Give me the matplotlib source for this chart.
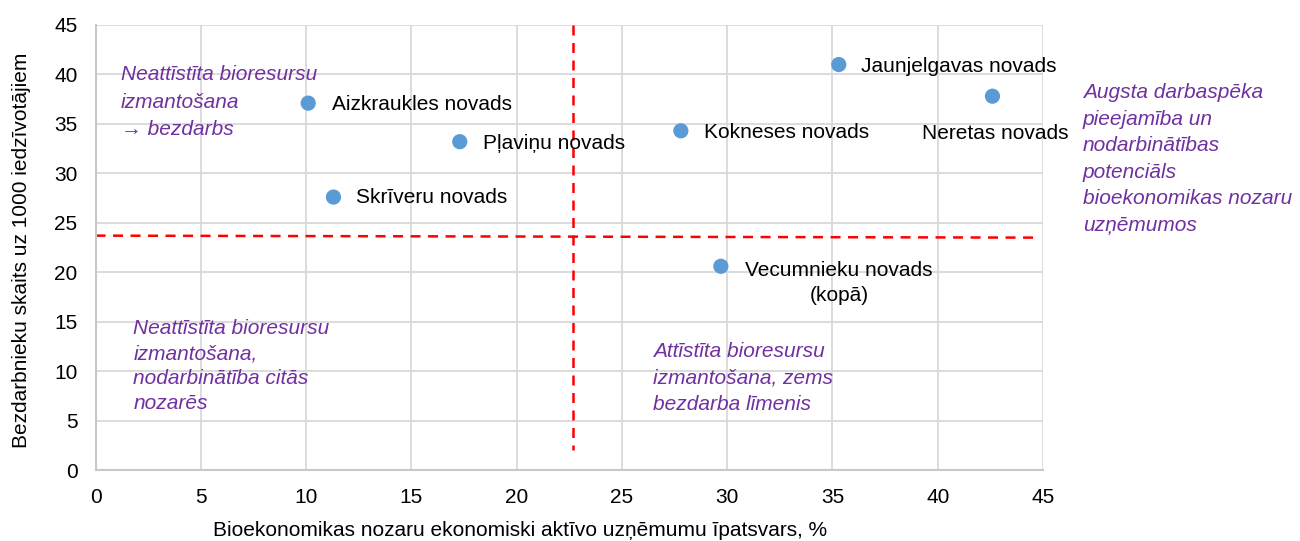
import matplotlib
matplotlib.use("Agg")
import matplotlib.pyplot as plt

plt.rcParams['font.family'] = ['Liberation Sans', 'DejaVu Sans']

names = ["Aizkraukles novads", "Pļaviņu novads", "Skrīveru novads", "Kokneses novads",
         "Jaunjelgavas novads", "Neretas novads", "Vecumnieku novads\n(kopā)"]
x_vals = [10.1, 17.3, 11.3, 27.8, 35.3, 42.6, 29.7]
y_vals = [37.1, 33.2, 27.6, 34.3, 41.0, 37.8, 20.6]

x_div = 22.7
y_div = [23.7, 23.5]

xticks = [0, 5, 10, 15, 20, 25, 30, 35, 40, 45]
yticks = [0, 5, 10, 15, 20, 25, 30, 35, 40, 45]

quad_texts = [
    "Neattīstīta bioresursu\nizmantošana\n→ bezdarbs",
    "Neattīstīta bioresursu\nizmantošana,\nnodarbinātība citās\nnozarēs",
    "Attīstīta bioresursu\nizmantošana, zems\nbezdarba līmenis",
    "Augsta darbaspēka\npieejamība un\nnodarbinātības\npotenciāls\nbioekonomikas nozaru\nuzņēmumos",
]

fig = plt.figure(figsize=(13, 5.41), dpi=100)
ax = fig.add_axes([0.0735, 0.1312, 0.7288, 0.8226])
ax.set_xlim(0, 45)
ax.set_ylim(0, 45)
ax.set_xticks(xticks)
ax.set_yticks(yticks)
ax.grid(True, color='#D9D9D9', linewidth=1.3)
ax.set_axisbelow(True)
for s in ['top', 'right']:
    ax.spines[s].set_visible(False)
for s in ['left', 'bottom']:
    ax.spines[s].set_color('#C8C8C8')
    ax.spines[s].set_linewidth(1.5)
fs = 15
ax.tick_params(length=0, labelsize=fs)
ax.tick_params(axis='x', pad=13)
ax.tick_params(axis='y', pad=13)

ax.scatter(x_vals, y_vals, s=120, color='#5B9BD5', zorder=3, edgecolors='none')

# dashed separators
ax.plot([x_div, x_div], [45, 2], color='#FF0000', linestyle=(0, (4, 3)), linewidth=1.8, zorder=2, clip_on=False)
ax.plot([0, 44.6], y_div, color='#FF0000', linestyle=(0, (4, 3)), linewidth=1.8, zorder=2, clip_on=False)

# point labels
offsets = [(17, -1), (17, -1.5), (16.5, -0.5), (17, -1), (16, -1.5)]
for i, off in enumerate(offsets):
    ax.annotate(names[i], (x_vals[i], y_vals[i]), xytext=off, textcoords='offset points',
                ha='left', va='center', fontsize=fs)
ax.annotate(names[5], (x_vals[5], y_vals[5]), xytext=(2, -27), textcoords='offset points',
            ha='center', va='center', fontsize=fs)
ax.annotate(names[6], (x_vals[6], y_vals[6]), xytext=(85, -12), textcoords='offset points',
            ha='center', va='center', fontsize=fs, multialignment='center', linespacing=1.43)

purple = '#7030A0'
ax.text(1.2, 37.2, quad_texts[0], color=purple, style='italic', fontsize=fs,
        ha='left', va='center', linespacing=1.55)
ax.text(1.8, 10.47, quad_texts[1], color=purple, style='italic', fontsize=fs,
        ha='left', va='center', linespacing=1.4)
ax.text(26.5, 9.3, quad_texts[2], color=purple, style='italic', fontsize=fs,
        ha='left', va='center', linespacing=1.5)
fig.text(1083 / 1300, 1 - 159 / 541, quad_texts[3], color=purple, style='italic', fontsize=fs,
         ha='left', va='center', linespacing=1.5)

fig.text(22 / 1300, 1 - 250 / 541, "Bezdarbnieku skaits uz 1000 iedzīvotājiem",
         rotation=90, ha='center', va='center', fontsize=fs)
fig.text(520 / 1300, 1 - 531 / 541, "Bioekonomikas nozaru ekonomiski aktīvo uzņēmumu īpatsvars, %",
         ha='center', va='center', fontsize=fs)

fig.savefig("out.png", dpi=100)
